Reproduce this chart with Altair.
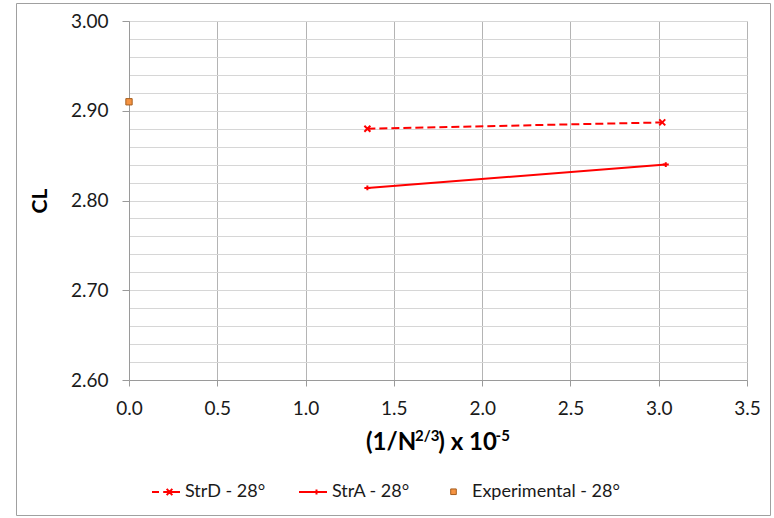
import altair as alt
import pandas as pd

# Lift coefficient against the grid parameter (1/N^(2/3)) x 10^-5
SERIES = ["StrD - 28°", "StrA - 28°", "Experimental - 28°"]
strd_x = [1.35, 3.02]
strd_cl = [2.880, 2.887]
stra_x = [1.35, 3.04]
stra_cl = [2.814, 2.840]
exp_x = [0.0]
exp_cl = [2.910]

x_ticks = [0.0, 0.5, 1.0, 1.5, 2.0, 2.5, 3.0, 3.5]
y_ticks = [round(2.60 + 0.02 * i, 2) for i in range(21)]  # minor grid every 0.02

RED = "#FF0000"
EXP_FILL = "#F59342"
EXP_EDGE = "#A65E1E"
TEXT = "#1a1a1a"
FONT = "Lato"

rows = (
    [{"x": a, "cl": b, "series": SERIES[0]} for a, b in zip(strd_x, strd_cl)]
    + [{"x": a, "cl": b, "series": SERIES[1]} for a, b in zip(stra_x, stra_cl)]
    + [{"x": a, "cl": b, "series": SERIES[2]} for a, b in zip(exp_x, exp_cl)]
)
df = pd.DataFrame(rows)
one = pd.DataFrame({"k": [0]})

W, H = 618, 359

MAJOR = "abs(datum.value * 10 - round(datum.value * 10)) < 0.001"

x_axis = alt.Axis(
    values=x_ticks, format=".1f", title=None,
    grid=True, gridColor="#b4b4b4", gridWidth=1,
    domainColor="#9a9a9a", tickColor="#9a9a9a", tickSize=6,
    labelFont=FONT, labelFontSize=19, labelColor=TEXT, labelPadding=13,
    labelFlush=False, labelOverlap=False,
)
y_axis = alt.Axis(
    values=y_ticks,
    labelExpr=f"{MAJOR} ? format(datum.value, '.2f') : ''",
    grid=True, gridColor="#d6d6d6", gridWidth=1,
    domainColor="#9a9a9a", tickColor="#9a9a9a",
    tickSize={"condition": {"test": MAJOR, "value": 7}, "value": 0},
    labelFont=FONT, labelFontSize=19, labelColor=TEXT, labelPadding=14,
    labelFlush=False, labelOverlap=False,
    title="CL", titleFont=FONT, titleFontSize=21, titleFontWeight="bold",
    titleColor="#000000", titlePadding=20,
)

xs = alt.Scale(domain=[0, 3.5], nice=False, zero=False)
ys = alt.Scale(domain=[2.6, 3.0], nice=False, zero=False)

base = alt.Chart(df).encode(
    x=alt.X("x:Q", scale=xs, axis=x_axis),
    y=alt.Y("cl:Q", scale=ys, axis=y_axis),
)

X_PATH = "M-1,-1L1,1M-1,1L1,-1"
PLUS_PATH = "M-1,0H1M0,-0.8V0.8"

strd = base.transform_filter(alt.datum.series == SERIES[0])
stra = base.transform_filter(alt.datum.series == SERIES[1])
expt = base.transform_filter(alt.datum.series == SERIES[2])

line_d = strd.mark_line(color=RED, strokeWidth=2, strokeDash=[8, 4])
pts_d = strd.mark_point(shape=X_PATH, size=36, filled=False, color=RED,
                        strokeWidth=2, opacity=1)
line_a = stra.mark_line(color=RED, strokeWidth=2)
pts_a = stra.mark_point(shape=PLUS_PATH, size=36, filled=False, color=RED,
                        strokeWidth=2, opacity=1)
pt_e = expt.mark_point(shape="square", size=40, filled=True, fill=EXP_FILL,
                       stroke=EXP_EDGE, strokeWidth=1, opacity=1)

# legend keys: line sample with marker, drawn in the [-1, 1] symbol box
D_KEY = "M-1,0H-0.5M-0.2,0H1M0.05,-0.22L0.45,0.22M0.05,0.22L0.45,-0.22"
A_KEY = "M-1,0H1M0.25,-0.18V0.18"
E_KEY = "M-0.2,-0.2H0.2V0.2H-0.2Z"

leg = alt.Legend(
    title=None, orient="none", legendX=22, legendY=456, direction="horizontal",
    symbolSize=784, labelFont=FONT, labelFontSize=18, labelColor=TEXT,
    labelOffset=4, columnPadding=29, padding=0,
)
legend_layer = alt.Chart(df).transform_filter("false").mark_point(
    size=784, opacity=1, filled=True
).encode(
    fill=alt.Fill("series:N", scale=alt.Scale(domain=SERIES, range=[RED, RED, EXP_FILL]), legend=leg),
    stroke=alt.Stroke("series:N", scale=alt.Scale(domain=SERIES, range=[RED, RED, EXP_EDGE]), legend=leg),
    shape=alt.Shape("series:N", scale=alt.Scale(domain=SERIES, range=[D_KEY, A_KEY, E_KEY]), legend=leg),
    strokeWidth=alt.StrokeWidth("series:N", scale=alt.Scale(type="ordinal", domain=SERIES, range=[2, 2, 1]), legend=leg),
)

# x-axis title with superscripts, set piece by piece
BOLD_EM = {"(": 0.31, "1": 0.58, "/": 0.39, "N": 0.76, "2": 0.58, "3": 0.58,
           ")": 0.31, " ": 0.2, "x": 0.52, "0": 0.58, "-": 0.38, "5": 0.58}
pieces = [("(1/N", 24, 0), ("2/3", 15, 9), (") x 10", 24, 0), ("-5", 15, 9)]
widths = [sum(BOLD_EM[c] for c in t) * s for t, s, _ in pieces]
cursor = W / 2 - sum(widths) / 2
TITLE_BASE = 429
title_layers = []
for (t, s, rise), w in zip(pieces, widths):
    title_layers.append(
        alt.Chart(one).mark_text(
            text=t, font=FONT, fontSize=s, fontWeight="bold", color="#000000",
            align="left", baseline="alphabetic",
        ).encode(x=alt.value(cursor), y=alt.value(TITLE_BASE - rise))
    )
    cursor += w

frame = alt.Chart(one).mark_rect(
    fill="transparent", stroke="#a0a0a0", strokeWidth=1
).encode(x=alt.value(-112.5), x2=alt.value(641.5), y=alt.value(-17.5), y2=alt.value(494.5))

chart = alt.layer(
    frame, line_d, line_a, pts_d, pts_a, pt_e, legend_layer, *title_layers
).properties(
    width=W, height=H, autosize="none",
    padding={"left": 129, "top": 21, "right": 27, "bottom": 138},
).configure_view(stroke="transparent").configure(background="white")

chart.save("out.html", embed_options={"renderer": "svg", "actions": False})
